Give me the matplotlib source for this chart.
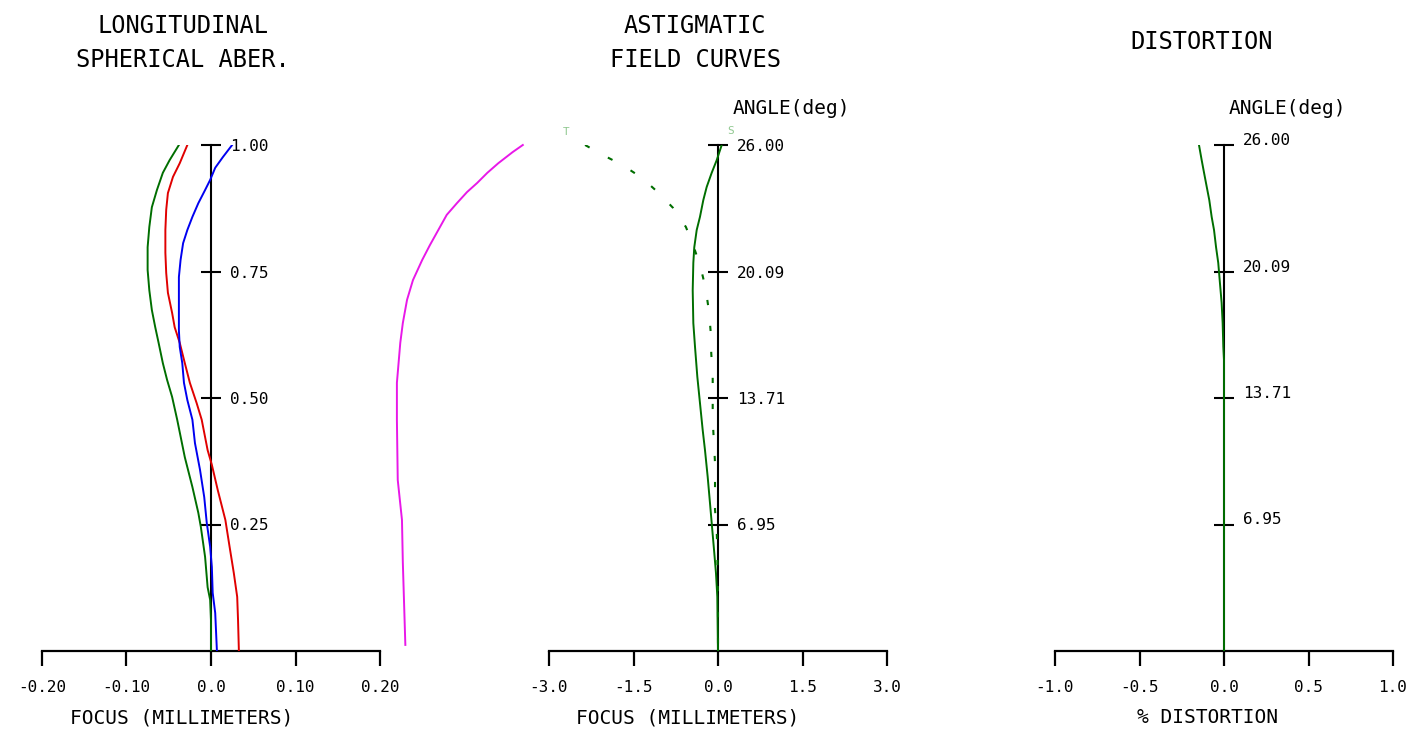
import matplotlib
matplotlib.use("Agg")
import matplotlib.pyplot as plt
from matplotlib.transforms import ScaledTranslation

# longitudinal spherical aberration, y = pupil height, x = focus shift (mm)
sph_y = [1.0, 0.970, 0.945, 0.911, 0.877, 0.838, 0.798, 0.753, 0.713, 0.674, 0.640,
         0.609, 0.569, 0.536, 0.502, 0.457, 0.383, 0.324, 0.273, 0.245, 0.186, 0.126,
         0.101, 0.06, 0.0]
sph_green = [-0.038, -0.049, -0.057, -0.064, -0.070, -0.073, -0.075, -0.075, -0.073,
             -0.070, -0.066, -0.062, -0.057, -0.052, -0.046, -0.040, -0.031, -0.022,
             -0.015, -0.012, -0.007, -0.004, -0.001, 0.0, 0.0]

red_y = [1.0, 0.964, 0.937, 0.905, 0.872, 0.832, 0.787, 0.747, 0.708, 0.668, 0.640,
         0.609, 0.569, 0.530, 0.490, 0.457, 0.397, 0.368, 0.318, 0.259, 0.206, 0.154,
         0.107, 0.061, 0.0]
sph_red = [-0.028, -0.037, -0.045, -0.051, -0.053, -0.054, -0.054, -0.053, -0.051,
           -0.046, -0.043, -0.037, -0.031, -0.025, -0.017, -0.011, -0.004, 0.001,
           0.008, 0.017, 0.022, 0.027, 0.031, 0.032, 0.033]

blue_y = [1.0, 0.976, 0.955, 0.931, 0.911, 0.885, 0.858, 0.832, 0.806, 0.773, 0.739,
          0.688, 0.634, 0.601, 0.569, 0.530, 0.496, 0.457, 0.411, 0.358, 0.304, 0.253,
          0.206, 0.166, 0.115, 0.075, 0.0]
sph_blue = [0.025, 0.014, 0.005, -0.001, -0.007, -0.015, -0.022, -0.028, -0.033, -0.036,
            -0.038, -0.038, -0.038, -0.037, -0.034, -0.032, -0.028, -0.022, -0.019,
            -0.013, -0.008, -0.005, -0.001, 0.001, 0.002, 0.005, 0.007]

mag_y = [1.0, 0.986, 0.964, 0.945, 0.925, 0.907, 0.885, 0.862, 0.832, 0.802, 0.773,
         0.733, 0.694, 0.648, 0.609, 0.530, 0.457, 0.338, 0.259, 0.176, 0.012]
sph_magenta = [0.369, 0.357, 0.340, 0.327, 0.315, 0.303, 0.291, 0.279, 0.269, 0.259,
               0.250, 0.239, 0.232, 0.227, 0.224, 0.220, 0.220, 0.221, 0.226, 0.227, 0.230]

sph_ticks = [0.25, 0.50, 0.75, 1.00]
sph_ticklabels = ["0.25", "0.50", "0.75", "1.00"]
sph_xticks = [-0.2, -0.1, 0.0, 0.1, 0.2]
sph_xlabels = ["-0.20", "-0.10", "0.0", "0.10", "0.20"]

# astigmatic field curves, y = relative field
sag_y = [1.0, 0.970, 0.945, 0.917, 0.891, 0.858, 0.832, 0.798, 0.767, 0.713, 0.648,
         0.601, 0.542, 0.490, 0.437, 0.397, 0.344, 0.292, 0.239, 0.194, 0.154, 0.107, 0.0]
sag_x = [0.066, -0.023, -0.112, -0.201, -0.261, -0.320, -0.378, -0.421, -0.438, -0.449,
         -0.438, -0.408, -0.367, -0.320, -0.272, -0.231, -0.183, -0.142, -0.101, -0.066,
         -0.036, -0.012, 0.0]
tan_y = [1.0, 0.980, 0.960, 0.935, 0.907, 0.876, 0.838, 0.802, 0.759, 0.717, 0.671,
         0.631, 0.589, 0.542, 0.457, 0.372, 0.279, 0.239, 0.194, 0.1, 0.0]
tan_x = [-2.36, -2.04, -1.69, -1.35, -1.07, -0.80, -0.57, -0.44, -0.31, -0.22, -0.16,
         -0.13, -0.12, -0.094, -0.094, -0.053, -0.053, -0.023, -0.012, 0.0, 0.0]

angle_ticks = [0.25, 0.50, 0.75, 1.00]
angle_labels = ["6.95", "13.71", "20.09", "26.00"]
ast_xticks = [-3.0, -1.5, 0.0, 1.5, 3.0]
ast_xlabels = ["-3.0", "-1.5", "0.0", "1.5", "3.0"]

# distortion (%)
dist_y = [1.0, 0.970, 0.945, 0.917, 0.891, 0.858, 0.832, 0.798, 0.767, 0.727, 0.688,
          0.648, 0.601, 0.575, 0.0]
dist_x = [-0.148, -0.132, -0.118, -0.102, -0.087, -0.073, -0.059, -0.047, -0.034,
          -0.024, -0.014, -0.008, -0.004, 0.0, 0.0]
dist_xticks = [-1.0, -0.5, 0.0, 0.5, 1.0]
dist_xlabels = ["-1.0", "-0.5", "0.0", "0.5", "1.0"]

GREEN = "#006e00"
MONO = "DejaVu Sans Mono"
W, H = 1418, 736

fig = plt.figure(figsize=(W / 100, H / 100), dpi=100)
fig.patch.set_facecolor("white")


def make_axes(left_px, xlim, xticks, xlabels, yticks, ylabels, xlabel, xlabel_pos):
    ax = fig.add_axes([left_px / W, 85 / H, 338 / W, 506 / H])
    ax.set_xlim(*xlim)
    ax.set_ylim(0, 1)
    ax.patch.set_alpha(0)
    for s in ["top", "left"]:
        ax.spines[s].set_visible(False)
    ax.spines["bottom"].set_linewidth(1.6)
    ax.spines["right"].set_position(("data", 0))
    ax.spines["right"].set_linewidth(1.5)
    ax.yaxis.set_ticks_position("right")
    ax.xaxis.set_ticks_position("bottom")
    ax.set_xticks(xticks, xlabels)
    ax.set_yticks(yticks, ylabels)
    ax.tick_params(axis="x", direction="out", length=11, width=1.6, pad=10,
                   labelsize=11.5)
    ax.tick_params(axis="y", direction="inout", length=14.5, width=1.5, pad=6.5,
                   labelsize=11.5)
    for lab in ax.get_xticklabels() + ax.get_yticklabels():
        lab.set_family(MONO)
    ax.text(xlabel_pos, -0.132, xlabel, transform=ax.transAxes, ha="center",
            va="center", fontsize=14, family=MONO)
    return ax


# panel 1
ax1 = make_axes(42, (-0.2, 0.2), sph_xticks, sph_xlabels, sph_ticks, sph_ticklabels,
                "FOCUS (MILLIMETERS)", 0.413)
ax1.plot(sph_green, sph_y, color=GREEN, lw=1.4, zorder=3)
ax1.plot(sph_red, red_y, color="#e00000", lw=1.4, zorder=3)
ax1.plot(sph_blue, blue_y, color="#0000f0", lw=1.4, zorder=3)
ax1.plot(sph_magenta, mag_y, color="#e818e8", lw=1.4, zorder=3, clip_on=False)
fig.text(183 / W, 1 - 43 / H, "LONGITUDINAL\nSPHERICAL ABER.", ha="center",
         va="center", fontsize=17, family=MONO, linespacing=1.55)

# panel 2
ax2 = make_axes(549, (-3, 3), ast_xticks, ast_xlabels, angle_ticks, angle_labels,
                "FOCUS (MILLIMETERS)", 0.41)
ax2.plot(sag_x, sag_y, color=GREEN, lw=1.4, zorder=3)
ax2.plot(tan_x, tan_y, color=GREEN, lw=1.5, zorder=3, linestyle=(0, (2.5, 10)))
ax2.text(0.050, 1.026, "T", transform=ax2.transAxes, ha="center", va="center",
         fontsize=8, color="#90c890", family=MONO)
ax2.text(0.536, 1.028, "S", transform=ax2.transAxes, ha="center", va="center",
         fontsize=8, color="#90c890", family=MONO)
ax2.text(0.544, 1.073, "ANGLE(deg)", transform=ax2.transAxes, ha="left",
         va="center", fontsize=14, family=MONO)
fig.text(695 / W, 1 - 43 / H, "ASTIGMATIC\nFIELD CURVES", ha="center",
         va="center", fontsize=17, family=MONO, linespacing=1.55)

# panel 3
ax3 = make_axes(1055, (-1, 1), dist_xticks, dist_xlabels, angle_ticks, angle_labels,
                "% DISTORTION", 0.45)
ax3.plot(dist_x, dist_y, color=GREEN, lw=1.4, zorder=3)
ax3.text(0.515, 1.073, "ANGLE(deg)", transform=ax3.transAxes, ha="left",
         va="center", fontsize=14, family=MONO)
shift = ScaledTranslation(0, 6 / 100, fig.dpi_scale_trans)
for lab in ax3.get_yticklabels():
    lab.set_transform(lab.get_transform() + shift)
fig.text(1202 / W, 1 - 42 / H, "DISTORTION", ha="center", va="center",
         fontsize=17, family=MONO)

fig.savefig("out.png", dpi=100, facecolor="white")
